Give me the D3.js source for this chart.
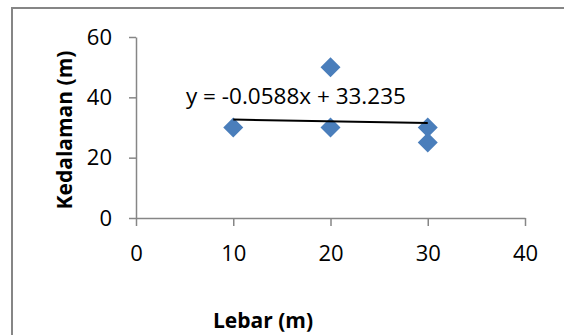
<!DOCTYPE html>
<html lang="en">
<head>
    <meta charset="utf-8">
    <title>Kedalaman vs Lebar</title>
    <script src="https://d3js.org/d3.v7.min.js"></script>
    <style>
        body { margin: 0; background: white; }
        svg text { font-family: "Open Sans", "Noto Sans", sans-serif; fill: black; }
        .axis path, .axis line { stroke: #868686; stroke-width: 1.5; }
        .axis text { font-size: 22px; }
        .title { font-weight: bold; font-size: 21px; }
    </style>
</head>
<body>
<script>
    // data
    var lebar = [10, 20, 20, 30, 30];
    var kedalaman = [30, 50, 30, 30, 25];
    var xTicks = [0, 10, 20, 30, 40];
    var yTicks = [0, 20, 40, 60];
    var slope = -0.0588;
    var intercept = 33.235;
    var trendText = "y = -0.0588x + 33.235";

    var w = 564, h = 335;

    var svg = d3.select("body").append("svg")
        .attr("width", w)
        .attr("height", h);

    // chart frame (runs past the right and bottom edge)
    svg.append("rect")
        .attr("x", 12)
        .attr("y", 8)
        .attr("width", 600)
        .attr("height", 400)
        .attr("fill", "none")
        .attr("stroke", "#868686")
        .attr("stroke-width", 2);

    var x = d3.scaleLinear().domain([0, 40]).range([136, 525]);
    var y = d3.scaleLinear().domain([0, 60]).range([218, 37]);

    var xAxis = svg.append("g")
        .attr("class", "axis")
        .attr("transform", "translate(0,218)")
        .call(d3.axisBottom(x).tickValues(xTicks).tickSize(8).tickPadding(19).tickSizeOuter(0));
    xAxis.selectAll("text").attr("dy", "0.71em");

    var yAxis = svg.append("g")
        .attr("class", "axis")
        .attr("transform", "translate(136,0)")
        .call(d3.axisLeft(y).tickValues(yTicks).tickSize(7).tickPadding(17).tickSizeOuter(0));

    // points
    var pts = lebar.map((d, i) => ({ x: d, y: kedalaman[i] }));
    svg.append("g")
        .selectAll("path")
        .data(pts).enter()
        .append("path")
        .attr("d", "M0,-10L10,0L0,10L-10,0Z")
        .attr("transform", d => `translate(${x(d.x)},${y(d.y)})`)
        .attr("fill", "#4a7ebb");

    // trendline
    var xr = d3.extent(lebar);
    svg.append("line")
        .attr("x1", x(xr[0]))
        .attr("y1", y(slope * xr[0] + intercept))
        .attr("x2", x(xr[1]))
        .attr("y2", y(slope * xr[1] + intercept))
        .attr("stroke", "black")
        .attr("stroke-width", 2);

    svg.append("text")
        .attr("x", 186)
        .attr("y", 104)
        .attr("font-size", 22.5)
        .text(trendText);

    // axis titles
    svg.append("text")
        .attr("class", "title")
        .attr("x", 263)
        .attr("y", 328)
        .attr("text-anchor", "middle")
        .text("Lebar (m)");

    svg.append("text")
        .attr("class", "title")
        .attr("transform", "translate(72,130) rotate(-90)")
        .attr("text-anchor", "middle")
        .text("Kedalaman (m)");
</script>
</body>
</html>
